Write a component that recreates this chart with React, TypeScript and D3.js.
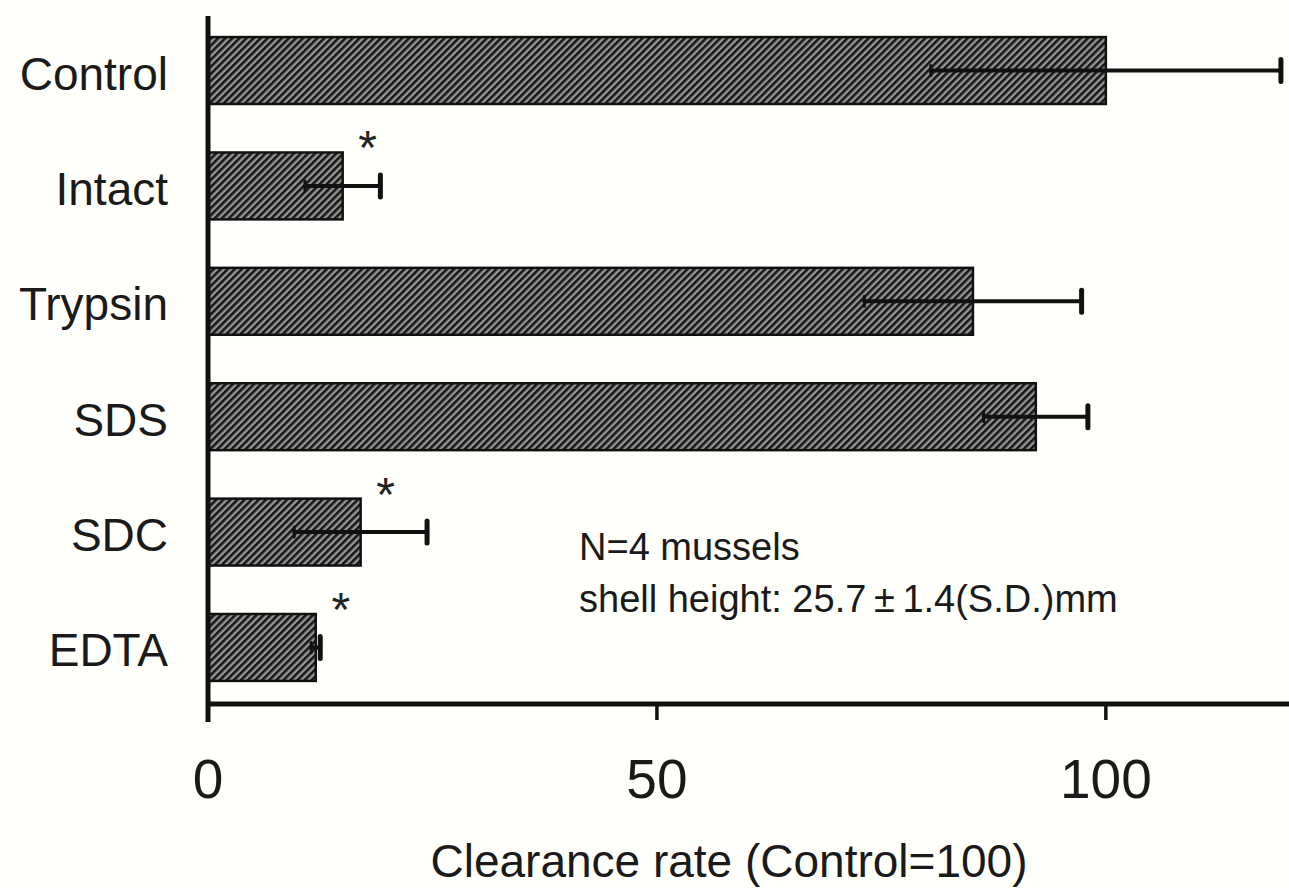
import React from "react";
import * as d3 from "d3";

// Treatments (top to bottom), mean clearance rate and S.D. (Control = 100)
const categories = ["Control", "Intact", "Trypsin", "SDS", "SDC", "EDTA"];
const values = [100, 15, 85.2, 92.2, 17, 12];
const errors = [19.5, 4.2, 12.1, 5.8, 7.4, 0.5];
const significant = [false, true, false, false, true, true];
const xTicks = [0, 50, 100];
const xTitle = "Clearance rate (Control=100)";
const noteLines = ["N=4 mussels", "shell height: 25.7\u2009\u00B1\u20091.4(S.D.)mm"];

const W = 1289;
const H = 888;
const FONT = "'Liberation Sans', Arial, Helvetica, sans-serif";

const App: React.FC = () => {
  const x = d3.scaleLinear().domain([0, 120.4]).range([208, 1289]);
  const y = d3
    .scaleBand<string>()
    .domain(categories)
    .range([14, 704])
    .paddingInner(0.42)
    .paddingOuter(0.2);

  const axisY = 704;
  const bw = y.bandwidth();

  return (
    <svg
      width={W}
      height={H}
      style={{ position: "absolute", left: 0, top: 0, background: "#fffffb" }}
      fontFamily={FONT}
    >
      <defs>
        <pattern
          id="hatch"
          patternUnits="userSpaceOnUse"
          width={5}
          height={5}
          patternTransform="rotate(45)"
        >
          <rect width={5} height={5} fill="#969696" />
          <line x1={1.3} y1={0} x2={1.3} y2={5} stroke="#161616" strokeWidth={2.6} />
        </pattern>
      </defs>

      {/* bars */}
      {categories.map((c, i) => (
        <rect
          key={c}
          x={x(0)}
          y={y(c)!}
          width={x(values[i]) - x(0)}
          height={bw}
          fill="url(#hatch)"
          stroke="#111"
          strokeWidth={2.5}
        />
      ))}

      {/* error bars */}
      {categories.map((c, i) => {
        const cy = y(c)! + bw / 2;
        const lo = x(values[i] - errors[i]);
        const hi = x(values[i] + errors[i]);
        return (
          <g key={c} stroke="#111" strokeLinecap="round">
            <line x1={lo} x2={hi} y1={cy} y2={cy} strokeWidth={4} />
            <line x1={hi} x2={hi} y1={cy - 11} y2={cy + 11} strokeWidth={5} />
            <line x1={lo} x2={lo} y1={cy - 5} y2={cy + 5} strokeWidth={3} />
          </g>
        );
      })}

      {/* significance marks */}
      {categories.map((c, i) =>
        significant[i] ? (
          <text
            key={c}
            x={x(values[i]) + 25}
            y={y(c)! + 12}
            fontSize={48}
            textAnchor="middle"
            fill="#222"
          >
            *
          </text>
        ) : null
      )}

      {/* axes */}
      <line x1={208} x2={208} y1={16} y2={722} stroke="#111" strokeWidth={5} />
      <line x1={208} x2={W} y1={axisY} y2={axisY} stroke="#111" strokeWidth={5} />
      {xTicks.map((t) => (
        <g key={t}>
          <line x1={x(t)} x2={x(t)} y1={axisY} y2={720} stroke="#111" strokeWidth={3.5} />
          <text x={x(t)} y={798} fontSize={55} textAnchor="middle" fill="#1a1a1a">
            {t}
          </text>
        </g>
      ))}

      {/* category labels */}
      {categories.map((c) => (
        <text
          key={c}
          x={168}
          y={y(c)! + bw / 2 + 19}
          fontSize={46}
          textAnchor="end"
          fill="#1a1a1a"
        >
          {c}
        </text>
      ))}

      <text x={729} y={877} fontSize={46} textAnchor="middle" fill="#1a1a1a">
        {xTitle}
      </text>

      {noteLines.map((t, i) => (
        <text key={i} x={579} y={560 + i * 52} fontSize={38} fill="#1a1a1a">
          {t}
        </text>
      ))}
    </svg>
  );
};

export default App;
